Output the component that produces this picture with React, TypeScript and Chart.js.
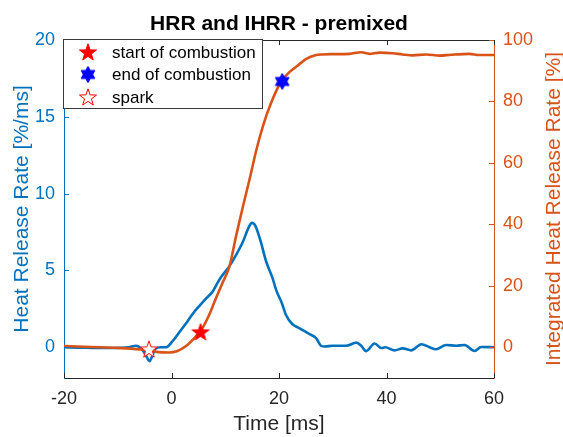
import React, { useEffect, useRef } from "react";
import { Chart, registerables } from "chart.js";

Chart.register(...registerables);

// ---- data ----
const hrrTime = [-20, -17, -14, -11, -8, -6.6, -5.6, -4.8, -4.1, -3.5, -3.0, -2, -1, 0.2, 1.5, 3, 4, 5.2, 6.5, 7.6, 8.9, 10.8, 12, 13.2, 14.5, 15.0, 15.6, 16.5, 17.6, 18.8, 19.5, 20.5, 21.3, 22.5, 23.5, 24.5, 25.7, 26.9, 27.8, 28.5, 30, 32.5, 34.4, 35.3, 36.2, 37.8, 39, 39.8, 41.5, 43, 44.6, 46.5, 48, 49.2, 51.1, 53, 54.5, 56.4, 57.6, 60];
const hrrValues = [0.0, -0.02, -0.05, -0.05, 0.0, 0.1, -0.1, -0.5, -0.9, -0.5, -0.1, 0.0, 0.0, 0.4, 1.0, 1.7, 2.2, 2.7, 3.2, 3.6, 4.4, 5.3, 6.0, 6.8, 7.9, 8.1, 7.9, 7.0, 5.6, 4.5, 3.7, 2.9, 2.1, 1.5, 1.3, 1.1, 0.85, 0.6, 0.1, 0.05, 0.1, 0.1, 0.3, 0.1, -0.25, 0.25, -0.05, 0.0, -0.2, -0.07, -0.2, 0.2, 0.0, -0.13, 0.15, 0.1, 0.15, -0.24, 0.02, 0.0];

const ihrrTime = [-20, -15, -10, -6.6, -4, -2.8, -0.4, 1, 2.7, 4.6, 5.6, 7, 8.0, 9.5, 10.8, 12.0, 13.3, 14.5, 15.8, 17.0, 18.5, 20.4, 21.8, 23.2, 25, 26.9, 28, 30, 33.1, 35.3, 36.8, 38.7, 41.1, 43, 44.9, 47.4, 49.9, 52, 55.4, 57.3, 60];
const ihrrValues = [0.4, 0.1, -0.2, -0.6, -1.0, -1.5, -1.7, -1.3, 0.4, 3.7, 5.8, 10.5, 14.8, 21, 26.4, 36.1, 45.9, 54.5, 64.3, 71.9, 79.4, 86.5, 89.3, 91.3, 93.8, 95.1, 95.3, 95.4, 95.5, 96.0, 95.5, 95.9, 95.7, 95.3, 95.0, 95.3, 94.9, 95.2, 95.5, 95.1, 95.1];

const startOfCombustion = [5.4, 1.0];
const endOfCombustion = [20.6, 17.3];
const sparkPoint = [-4.2, -0.12];

const xTicks = [-20, 0, 20, 40, 60];
const leftTicks = [0, 5, 10, 15, 20];
const rightTicks = [0, 20, 40, 60, 80, 100];

const legendLabels = ["start of combustion", "end of combustion", "spark"];
const titleText = "HRR and IHRR - premixed";
const xTitle = "Time [ms]";
const yLeftTitle = "Heat Release Rate [%/ms]";
const yRightTitle = "Integrated Heat Release Rate [%]";

// ---- styles ----
const BLUE = "#0072BD";
const ORANGE = "#D95319";
const DARK = "#262626";
const FONT = "'Liberation Sans', Arial, Helvetica, sans-serif";

function starPath(ctx: CanvasRenderingContext2D, cx: number, cy: number, n: number, rOut: number, rIn: number) {
  ctx.beginPath();
  for (let i = 0; i < 2 * n; i++) {
    const r = i % 2 === 0 ? rOut : rIn;
    const a = -Math.PI / 2 + (i * Math.PI) / n;
    const px = cx + r * Math.cos(a);
    const py = cy + r * Math.sin(a);
    if (i === 0) ctx.moveTo(px, py);
    else ctx.lineTo(px, py);
  }
  ctx.closePath();
}

function makeMarker(n: number, rOut: number, rIn: number, fill: string, stroke: string, lw: number) {
  const size = Math.ceil(2 * rOut + 4);
  const c = document.createElement("canvas");
  c.width = size;
  c.height = size;
  const ctx = c.getContext("2d")!;
  starPath(ctx, size / 2, size / 2 + (n === 5 ? 0.8 : 0), n, rOut, rIn);
  ctx.fillStyle = fill;
  ctx.fill();
  ctx.strokeStyle = stroke;
  ctx.lineWidth = lw;
  ctx.lineJoin = "miter";
  ctx.stroke();
  return c;
}

export default function App() {
  const ref = useRef<HTMLCanvasElement | null>(null);

  useEffect(() => {
    const canvas = ref.current;
    if (!canvas) return;

    const startImg = makeMarker(5, 9, 3.6, "#FF0000", "#FF0000", 1);
    const endImg = makeMarker(6, 8, 4.6, "#0000FF", "#0000FF", 1);
    const sparkImg = makeMarker(5, 9, 3.6, "#FFFFFF", "#FF0000", 1);
    const markerImgs = [startImg, endImg, sparkImg];

    const overlay = {
      id: "overlay",
      afterDraw(chart: any) {
        const ctx: CanvasRenderingContext2D = chart.ctx;
        const area = chart.chartArea;
        const xs = chart.scales.x;
        const yl = chart.scales.y;
        const yr = chart.scales.y1;
        ctx.save();
        // top border
        ctx.strokeStyle = DARK;
        ctx.lineWidth = 1;
        ctx.beginPath();
        ctx.moveTo(area.left, Math.round(area.top) + 0.5);
        ctx.lineTo(area.right, Math.round(area.top) + 0.5);
        ctx.stroke();
        // inward ticks
        const TL = 5;
        ctx.strokeStyle = DARK;
        for (const v of xTicks) {
          const px = Math.round(xs.getPixelForValue(v)) + 0.5;
          ctx.beginPath();
          ctx.moveTo(px, area.bottom);
          ctx.lineTo(px, area.bottom - TL);
          ctx.moveTo(px, area.top);
          ctx.lineTo(px, area.top + TL);
          ctx.stroke();
        }
        ctx.strokeStyle = BLUE;
        for (const v of leftTicks) {
          const py = Math.round(yl.getPixelForValue(v)) + 0.5;
          ctx.beginPath();
          ctx.moveTo(area.left, py);
          ctx.lineTo(area.left + TL, py);
          ctx.stroke();
        }
        ctx.strokeStyle = ORANGE;
        for (const v of rightTicks) {
          const py = Math.round(yr.getPixelForValue(v)) + 0.5;
          ctx.beginPath();
          ctx.moveTo(area.right, py);
          ctx.lineTo(area.right - TL, py);
          ctx.stroke();
        }
        // title
        ctx.fillStyle = "#000000";
        ctx.font = `bold 21px ${FONT}`;
        ctx.textAlign = "center";
        ctx.textBaseline = "alphabetic";
        ctx.fillText(titleText, (area.left + area.right) / 2, 30);
        // x title
        ctx.fillStyle = DARK;
        ctx.font = `21px ${FONT}`;
        ctx.fillText(xTitle, (area.left + area.right) / 2, 430);
        // left y title
        const cy = (area.top + area.bottom) / 2;
        ctx.save();
        ctx.translate(28, cy);
        ctx.rotate(-Math.PI / 2);
        ctx.fillStyle = BLUE;
        ctx.fillText(yLeftTitle, 0, 0);
        ctx.restore();
        // right y title
        ctx.save();
        ctx.translate(560, cy);
        ctx.rotate(-Math.PI / 2);
        ctx.fillStyle = ORANGE;
        ctx.fillText(yRightTitle, 0, 0);
        ctx.restore();
        // legend
        const bx = 63.5, by = 39.5, bw = 199, bh = 69;
        ctx.fillStyle = "#FFFFFF";
        ctx.fillRect(bx, by, bw, bh);
        ctx.strokeStyle = "#3a3a3a";
        ctx.lineWidth = 1;
        ctx.strokeRect(bx, by, bw, bh);
        const rowsY = [52, 74.5, 97];
        ctx.font = `17px ${FONT}`;
        ctx.textAlign = "left";
        ctx.textBaseline = "middle";
        ctx.fillStyle = "#000000";
        legendLabels.forEach((lab, i) => {
          const img = markerImgs[i];
          ctx.drawImage(img, 88 - img.width / 2, rowsY[i] - img.height / 2);
          ctx.fillText(lab, 112, rowsY[i] + 1);
        });
        ctx.restore();
      },
    };

    const chart = new Chart(canvas, {
      type: "line",
      data: {
        datasets: [
          {
            label: "HRR",
            data: hrrTime.map((t, i) => ({ x: t, y: hrrValues[i] })),
            yAxisID: "y",
            borderColor: BLUE,
            backgroundColor: BLUE,
            borderWidth: 2.6,
            pointRadius: 0,
            cubicInterpolationMode: "monotone",
            order: 3,
          },
          {
            label: "IHRR",
            data: ihrrTime.map((t, i) => ({ x: t, y: ihrrValues[i] })),
            yAxisID: "y1",
            borderColor: ORANGE,
            backgroundColor: ORANGE,
            borderWidth: 2.6,
            pointRadius: 0,
            cubicInterpolationMode: "monotone",
            order: 2,
          },
          {
            label: legendLabels[0],
            data: [{ x: startOfCombustion[0], y: startOfCombustion[1] }],
            yAxisID: "y",
            showLine: false,
            pointStyle: startImg as any,
            pointRadius: 9,
            order: 1,
          },
          {
            label: legendLabels[1],
            data: [{ x: endOfCombustion[0], y: endOfCombustion[1] }],
            yAxisID: "y",
            showLine: false,
            pointStyle: endImg as any,
            pointRadius: 8,
            order: 1,
          },
          {
            label: legendLabels[2],
            data: [{ x: sparkPoint[0], y: sparkPoint[1] }],
            yAxisID: "y",
            showLine: false,
            pointStyle: sparkImg as any,
            pointRadius: 9,
            order: 0,
          },
        ],
      },
      options: {
        animation: false,
        responsive: false,
        devicePixelRatio: 1,
        layout: { padding: { top: 40, left: 0, right: 0, bottom: 0 } },
        plugins: {
          legend: { display: false },
          tooltip: { enabled: false },
          title: { display: false },
        },
        scales: {
          x: {
            type: "linear",
            min: -20,
            max: 60,
            grid: { display: false, drawTicks: false },
            border: { display: true, color: DARK, width: 1 },
            ticks: {
              color: DARK,
              font: { family: FONT, size: 18 },
              padding: 10,
              autoSkip: false,
              maxRotation: 0,
            },
            afterBuildTicks: (s: any) => {
              s.ticks = xTicks.map((v) => ({ value: v }));
            },
            afterFit: (s: any) => {
              s.height = 59;
            },
          },
          y: {
            type: "linear",
            position: "left",
            min: -2,
            max: 20,
            grid: { display: false, drawTicks: false },
            border: { display: true, color: BLUE, width: 1 },
            ticks: {
              color: BLUE,
              font: { family: FONT, size: 18 },
              padding: 9,
              autoSkip: false,
            },
            afterBuildTicks: (s: any) => {
              s.ticks = leftTicks.map((v) => ({ value: v }));
            },
            afterFit: (s: any) => {
              s.width = 64;
            },
          },
          y1: {
            type: "linear",
            position: "right",
            min: -10,
            max: 100,
            grid: { display: false, drawTicks: false },
            border: { display: true, color: ORANGE, width: 1 },
            ticks: {
              color: ORANGE,
              font: { family: FONT, size: 18 },
              padding: 9,
              autoSkip: false,
            },
            afterBuildTicks: (s: any) => {
              s.ticks = rightTicks.map((v) => ({ value: v }));
            },
            afterFit: (s: any) => {
              s.width = 69;
            },
          },
        },
      },
      plugins: [overlay],
    } as any);

    return () => {
      chart.destroy();
    };
  }, []);

  return (
    <div style={{ position: "absolute", left: 0, top: 0, width: 563, height: 437, background: "#FFFFFF" }}>
      <canvas ref={ref} width={563} height={437} style={{ display: "block", width: 563, height: 437 }} />
    </div>
  );
}
